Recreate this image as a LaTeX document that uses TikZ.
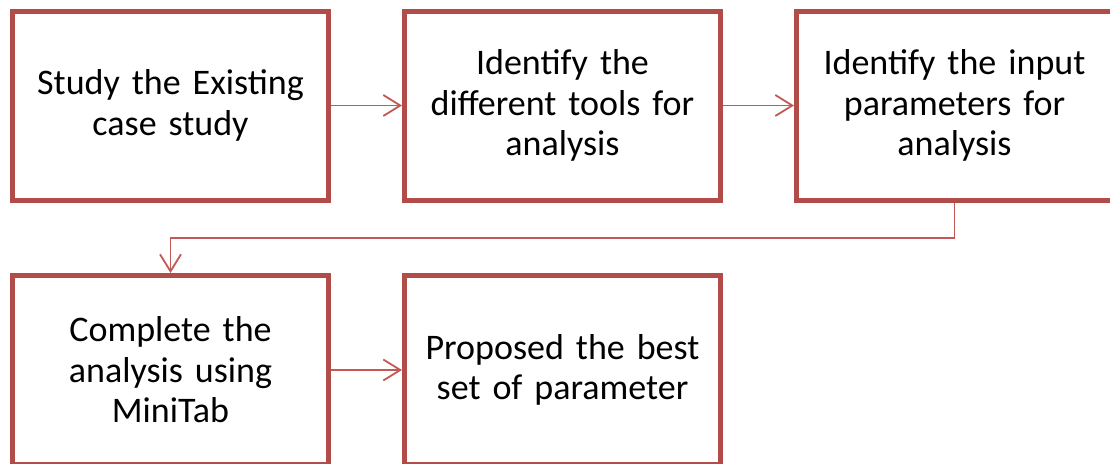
\documentclass[tikz,border=0pt]{standalone}
\usepackage{fontspec}
\setmainfont{Carlito}
\usetikzlibrary{positioning, arrows.meta}
\definecolor{boxred}{RGB}{178,76,72}
\definecolor{arrowred}{RGB}{196,88,84}

\begin{document}
\begin{tikzpicture}[x=1pt, y=-1pt,
	stepbox/.style={draw=boxred, line width=5pt, minimum width=316pt, minimum height=189pt,
		text width=296pt, align=center, font=\fontsize{36}{40.5}\selectfont},
	flow/.style={draw=arrowred, line width=1.8pt, -{Straight Barb[length=17pt, width=21pt]}},
	node distance=70.5pt and 71pt]
	\useasboundingbox (0, 0) rectangle (1110, 463);
	\clip (0, 0) rectangle (1110, 463);
	% top row
	\node [stepbox] (study) at (170.5, 105.5) {Study the Existing\\case study};
	\node [stepbox, right=of study] (tools) {Identify the\\different tools for\\analysis};
	\node [stepbox, right=of tools] (params) {Identify the input\\parameters for\\analysis};
	% bottom row
	\node [stepbox, below=of study] (minitab) {Complete the\\analysis using\\MiniTab};
	\node [stepbox, right=of minitab] (propose) {Proposed the best\\set of parameter};
	% connectors
	\draw [flow] (study) -- (tools);
	\draw [flow] (tools) -- (params);
	\draw [flow] (params.south) -- ++(0, 35.5) -| (minitab.north);
	\draw [flow] (minitab) -- (propose);
\end{tikzpicture}
\end{document}
